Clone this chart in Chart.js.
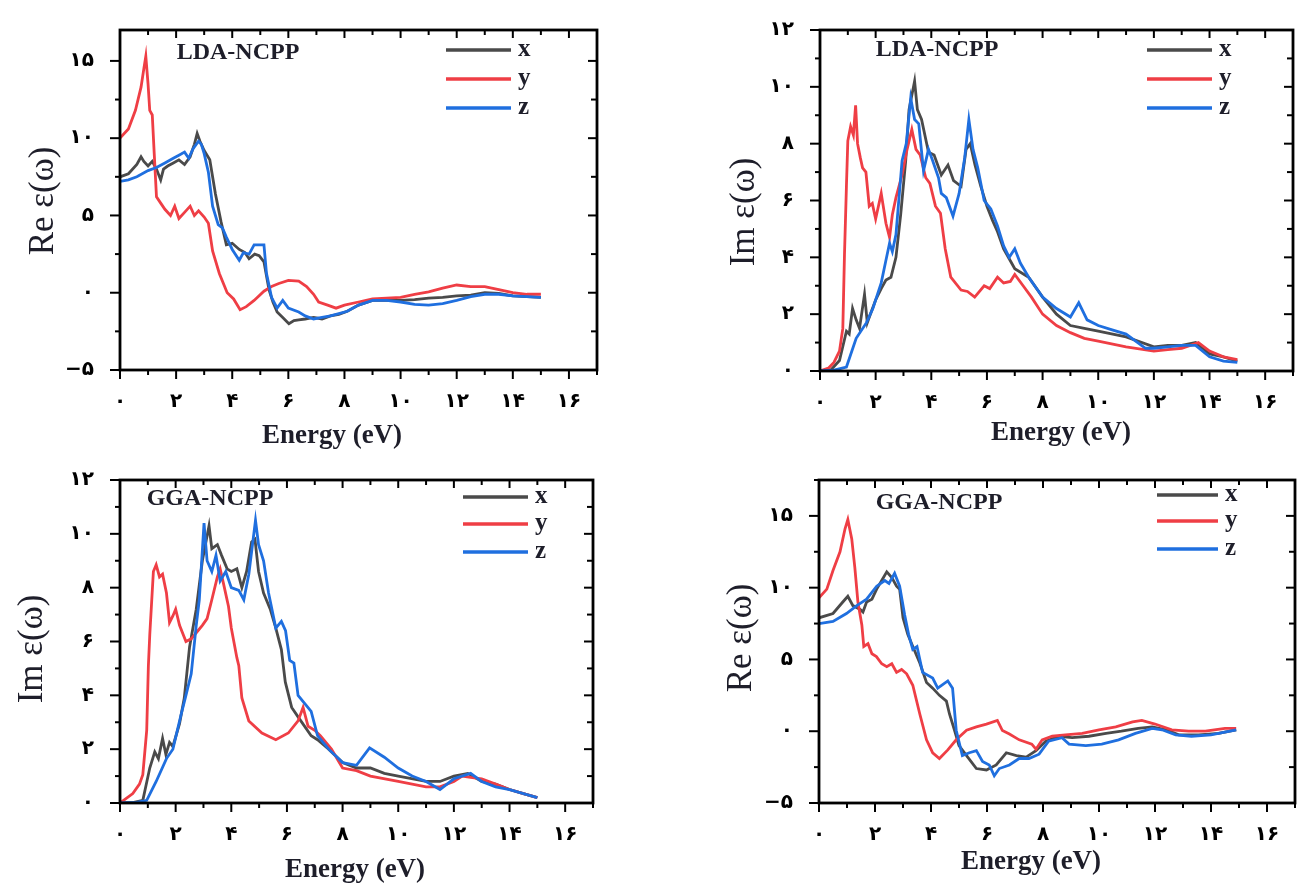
<!DOCTYPE html>
<html>
<head>
<meta charset="utf-8">
<script src="https://cdn.jsdelivr.net/npm/chart.js@4.4.1/dist/chart.umd.min.js"></script>
<style>
  html, body { margin: 0; padding: 0; background: #fff; }
  #wrap { position: relative; width: 1298px; height: 884px; overflow: hidden; }
  canvas { position: absolute; }
</style>
</head>
<body>
<div id="wrap">
  <canvas id="c1" width="620" height="450" style="left:0px;top:0px"></canvas>
  <canvas id="c2" width="598" height="450" style="left:700px;top:0px"></canvas>
  <canvas id="c3" width="620" height="434" style="left:0px;top:450px"></canvas>
  <canvas id="c4" width="598" height="434" style="left:700px;top:450px"></canvas>
</div>
<script>
/* ---- dielectric function data ---- */

const seriesNames = ['x', 'y', 'z'];
const seriesColors = ['#4a4a4a', '#ef3e45', '#1f6fdf'];
const faDigits = ['۰', '۱', '۲', '۳', '۴', '۵', '۶', '۷', '۸', '۹'];

// LDA-NCPP, Re eps
const ldaReXE = [0, 0.3, 0.6, 0.75, 0.85, 1.0, 1.15, 1.3, 1.45, 1.55, 1.7, 1.9, 2.1, 2.3, 2.5, 2.65, 2.75, 2.85, 3.0, 3.2, 3.4, 3.6, 3.79, 4.0, 4.25, 4.45, 4.6, 4.8, 4.96, 5.13, 5.31, 5.45, 5.6, 5.8, 6.02, 6.2, 6.37, 6.6, 6.9, 7.2, 7.5, 7.8, 8.1, 8.5, 9.0, 9.5, 10, 10.5, 11, 11.5, 12, 12.5, 13, 13.5, 14, 14.5, 15];
const ldaReX = [7.5, 7.7, 8.3, 8.8, 8.5, 8.2, 8.5, 8.0, 7.3, 8.0, 8.2, 8.4, 8.6, 8.3, 8.8, 9.6, 10.3, 9.8, 9.2, 8.6, 6.4, 4.6, 3.1, 3.2, 2.8, 2.6, 2.2, 2.5, 2.4, 2.0, 0.2, -0.6, -1.25, -1.6, -2.0, -1.8, -1.75, -1.7, -1.6, -1.7, -1.5, -1.4, -1.2, -0.8, -0.5, -0.5, -0.5, -0.45, -0.35, -0.3, -0.2, -0.15, 0.0, -0.05, -0.2, -0.25, -0.3];
const ldaReYE = [0, 0.3, 0.55, 0.75, 0.85, 0.92, 1.0, 1.06, 1.15, 1.22, 1.3, 1.45, 1.6, 1.8, 1.95, 2.1, 2.3, 2.5, 2.65, 2.8, 3.0, 3.15, 3.3, 3.54, 3.82, 4.05, 4.28, 4.5, 4.78, 5.13, 5.4, 5.66, 6.0, 6.37, 6.65, 6.9, 7.08, 7.4, 7.7, 8.0, 8.5, 9.0, 9.5, 10, 10.5, 11, 11.5, 12, 12.5, 13, 13.5, 14, 14.5, 15];
const ldaReY = [10, 10.6, 11.8, 13.3, 14.5, 15.3, 13.5, 11.8, 11.5, 9.0, 6.2, 5.8, 5.4, 5.0, 5.6, 4.8, 5.2, 5.6, 5.0, 5.3, 4.9, 4.5, 2.7, 1.25, 0.0, -0.4, -1.1, -0.9, -0.5, 0.1, 0.4, 0.6, 0.8, 0.75, 0.4, -0.1, -0.6, -0.8, -1.0, -0.8, -0.6, -0.4, -0.35, -0.3, -0.1, 0.05, 0.3, 0.5, 0.4, 0.4, 0.2, 0.0, -0.1, -0.1];
const ldaReZE = [0, 0.3, 0.6, 1.0, 1.3, 1.6, 1.9, 2.1, 2.3, 2.45, 2.6, 2.8, 2.9, 3.0, 3.15, 3.3, 3.5, 3.65, 3.79, 4.0, 4.25, 4.4, 4.6, 4.78, 4.96, 5.13, 5.22, 5.4, 5.6, 5.8, 6.0, 6.37, 6.6, 6.9, 7.2, 7.5, 7.8, 8.1, 8.5, 9.0, 9.5, 10, 10.5, 11, 11.5, 12, 12.5, 13, 13.5, 14, 14.5, 15];
const ldaReZ = [7.2, 7.3, 7.5, 7.9, 8.1, 8.4, 8.7, 8.9, 9.1, 8.7, 9.3, 9.8, 9.6, 9.0, 7.8, 5.6, 4.4, 4.2, 3.6, 2.8, 2.1, 2.6, 2.5, 3.1, 3.1, 3.1, 1.25, -0.3, -1.0, -0.5, -1.0, -1.25, -1.5, -1.7, -1.6, -1.5, -1.35, -1.2, -0.8, -0.5, -0.5, -0.6, -0.75, -0.8, -0.7, -0.5, -0.25, -0.1, -0.1, -0.2, -0.25, -0.3];

// LDA-NCPP, Im eps
const ldaImXE = [0, 0.4, 0.7, 0.95, 1.05, 1.17, 1.3, 1.42, 1.6, 1.7, 1.85, 2.0, 2.2, 2.37, 2.55, 2.73, 2.9, 3.08, 3.2, 3.4, 3.5, 3.65, 3.9, 4.1, 4.36, 4.6, 4.8, 5.07, 5.25, 5.4, 5.57, 5.78, 6.0, 6.2, 6.38, 6.6, 7.0, 7.5, 8.0, 8.5, 9.0, 9.5, 10, 11, 12, 12.5, 13, 13.5, 14, 14.5, 15];
const ldaImX = [0, 0.05, 0.37, 1.4, 1.3, 2.2, 1.8, 1.5, 2.7, 1.7, 2.1, 2.5, 2.9, 3.2, 3.3, 4.0, 5.5, 7.4, 9.2, 10.2, 9.2, 8.85, 7.7, 7.6, 6.9, 7.25, 6.7, 6.5, 7.8, 8.0, 7.25, 6.5, 5.8, 5.3, 4.9, 4.3, 3.6, 3.3, 2.6, 2.0, 1.6, 1.5, 1.4, 1.2, 0.85, 0.9, 0.9, 1.0, 0.6, 0.5, 0.35];
const ldaImYE = [0, 0.3, 0.5, 0.7, 0.82, 0.88, 0.95, 1.0, 1.1, 1.2, 1.28, 1.35, 1.45, 1.53, 1.65, 1.77, 1.88, 2.0, 2.2, 2.37, 2.5, 2.6, 2.73, 2.95, 3.13, 3.3, 3.45, 3.6, 3.8, 3.95, 4.15, 4.33, 4.5, 4.7, 5.07, 5.3, 5.56, 5.9, 6.1, 6.38, 6.6, 6.84, 7.0, 7.3, 7.6, 8.0, 8.5, 9.0, 9.5, 10, 11, 12, 12.5, 13, 13.6, 14, 14.5, 15];
const ldaImY = [0, 0.1, 0.3, 0.7, 1.5, 4.1, 6.5, 8.1, 8.6, 8.3, 9.35, 8.0, 7.5, 7.15, 7.0, 5.8, 5.9, 5.35, 6.25, 5.2, 4.7, 5.5, 6.1, 6.9, 7.8, 8.5, 7.8, 7.6, 6.8, 6.6, 5.8, 5.55, 4.3, 3.3, 2.85, 2.8, 2.6, 3.0, 2.9, 3.3, 3.1, 3.15, 3.4, 3.0, 2.6, 2.0, 1.6, 1.35, 1.15, 1.05, 0.85, 0.7, 0.75, 0.8, 1.0, 0.7, 0.5, 0.4];
const ldaImZE = [0, 0.5, 0.95, 1.3, 1.67, 1.9, 2.2, 2.37, 2.5, 2.6, 2.73, 2.95, 3.1, 3.26, 3.4, 3.55, 3.72, 3.9, 4.05, 4.26, 4.36, 4.54, 4.78, 5.0, 5.2, 5.35, 5.5, 5.67, 5.9, 6.14, 6.38, 6.6, 6.8, 7.0, 7.2, 7.5, 8.0, 8.5, 9.0, 9.3, 9.6, 10, 10.5, 11, 11.7, 12, 12.5, 13, 13.5, 14, 14.5, 15];
const ldaImZ = [0, 0.03, 0.14, 1.15, 1.7, 2.2, 3.1, 3.9, 4.5, 4.2, 4.8, 7.4, 8.0, 9.6, 8.85, 8.7, 7.05, 7.8, 7.4, 6.8, 6.25, 6.1, 5.45, 6.25, 7.5, 8.85, 7.8, 7.15, 6.0, 5.7, 5.1, 4.4, 4.0, 4.3, 3.8, 3.3, 2.6, 2.2, 1.9, 2.4, 1.8, 1.6, 1.45, 1.3, 0.8, 0.8, 0.85, 0.9, 0.9, 0.5, 0.35, 0.3];

// GGA-NCPP, Im eps
const ggaImXE = [0, 0.5, 0.82, 1.07, 1.25, 1.38, 1.53, 1.65, 1.78, 1.9, 2.14, 2.31, 2.5, 2.74, 2.96, 3.2, 3.3, 3.5, 3.65, 3.85, 4.0, 4.2, 4.38, 4.55, 4.73, 4.85, 4.98, 5.16, 5.4, 5.6, 5.8, 5.94, 6.17, 6.4, 6.87, 7.1, 7.5, 8.0, 8.5, 9.0, 9.5, 10, 11, 11.5, 12, 12.5, 13, 13.5, 14, 14.5, 15];
const ggaImX = [0, 0.02, 0.1, 1.3, 1.9, 1.65, 2.4, 1.8, 2.25, 2.1, 2.95, 3.9, 5.8, 7.2, 9.0, 10.3, 9.45, 9.6, 9.2, 8.7, 8.6, 8.7, 8.0, 8.6, 9.7, 9.8, 8.6, 7.8, 7.2, 6.5, 5.7, 4.5, 3.55, 3.2, 2.5, 2.35, 2.0, 1.5, 1.3, 1.3, 1.1, 1.0, 0.8, 0.8, 1.0, 1.1, 0.8, 0.7, 0.5, 0.35, 0.2];
const ggaImYE = [0, 0.46, 0.7, 0.82, 0.96, 1.02, 1.07, 1.2, 1.3, 1.42, 1.53, 1.67, 1.78, 1.9, 2.0, 2.14, 2.37, 2.56, 2.8, 2.96, 3.13, 3.3, 3.5, 3.6, 3.72, 3.9, 4.0, 4.2, 4.27, 4.38, 4.63, 5.1, 5.6, 6.05, 6.4, 6.58, 6.76, 7.0, 7.2, 7.6, 8.0, 8.5, 9.0, 10, 11, 11.5, 12, 12.3, 12.6, 13, 13.5, 14, 14.5, 15];
const ggaImY = [0, 0.35, 0.7, 1.05, 2.7, 5.1, 6.25, 8.6, 8.85, 8.4, 8.5, 7.8, 6.7, 6.95, 7.2, 6.6, 6.0, 6.1, 6.4, 6.6, 6.85, 7.55, 8.4, 8.7, 8.15, 7.3, 6.5, 5.4, 5.1, 3.9, 3.05, 2.6, 2.35, 2.6, 3.05, 3.55, 2.85, 2.7, 2.5, 2.0, 1.3, 1.2, 1.0, 0.8, 0.6, 0.6, 0.8, 1.0, 0.95, 0.9, 0.7, 0.5, 0.35, 0.2];
const ggaImZE = [0, 0.6, 0.96, 1.3, 1.67, 1.9, 2.2, 2.37, 2.56, 2.74, 2.85, 3.02, 3.13, 3.3, 3.45, 3.6, 3.8, 4.0, 4.27, 4.45, 4.63, 4.87, 4.98, 5.16, 5.34, 5.6, 5.8, 5.95, 6.1, 6.25, 6.4, 6.87, 7.1, 7.5, 8.0, 8.5, 8.97, 9.5, 10, 10.5, 11, 11.5, 12, 12.6, 13, 13.5, 14, 14.5, 15];
const ggaImZ = [0, 0.02, 0.1, 0.8, 1.65, 2.0, 3.3, 4.0, 4.8, 6.6, 7.55, 10.4, 9.0, 8.6, 9.2, 8.25, 8.6, 8.0, 7.9, 7.55, 8.5, 10.5, 9.6, 9.0, 7.8, 6.5, 6.75, 6.4, 5.3, 5.2, 4.0, 3.4, 2.5, 2.0, 1.5, 1.4, 2.05, 1.7, 1.3, 1.0, 0.8, 0.5, 0.9, 1.1, 0.8, 0.6, 0.5, 0.35, 0.2];

// GGA-NCPP, Re eps
const ggaReXE = [0, 0.5, 0.85, 1.03, 1.21, 1.46, 1.57, 1.7, 1.89, 2.06, 2.24, 2.42, 2.6, 2.77, 2.88, 3.0, 3.17, 3.35, 3.6, 3.84, 4.06, 4.3, 4.55, 4.66, 4.84, 5.0, 5.27, 5.62, 5.98, 6.33, 6.69, 7.05, 7.4, 7.75, 8.1, 8.58, 9.04, 9.64, 10.25, 10.8, 11.4, 11.9, 12.4, 12.85, 13.56, 14.27, 14.9];
const ggaReX = [7.9, 8.2, 9.0, 9.4, 8.75, 8.5, 8.3, 9.0, 9.2, 9.9, 10.5, 11.1, 10.7, 10.1, 9.9, 7.9, 6.75, 5.9, 4.75, 3.4, 3.0, 2.5, 2.1, 1.2, 0.07, -1.0, -1.7, -2.6, -2.7, -2.35, -1.5, -1.7, -1.8, -1.35, -0.7, -0.35, -0.45, -0.35, -0.15, 0.0, 0.2, 0.3, 0.1, -0.25, -0.25, -0.15, 0.1];
const ggaReYE = [0, 0.28, 0.5, 0.75, 0.93, 1.03, 1.17, 1.28, 1.39, 1.53, 1.6, 1.75, 1.89, 2.05, 2.24, 2.42, 2.6, 2.77, 2.95, 3.13, 3.35, 3.6, 3.84, 4.06, 4.3, 4.6, 4.9, 5.27, 5.62, 5.98, 6.37, 6.55, 6.8, 7.15, 7.6, 7.75, 7.97, 8.33, 8.8, 9.4, 10.0, 10.6, 11.2, 11.53, 12.0, 12.6, 13.2, 13.8, 14.5, 14.9];
const ggaReY = [9.3, 9.9, 11.2, 12.5, 14.1, 14.75, 13.4, 11.4, 9.0, 7.4, 5.9, 6.1, 5.4, 5.2, 4.7, 4.5, 4.7, 4.1, 4.3, 4.0, 3.2, 1.2, -0.6, -1.5, -1.9, -1.3, -0.6, 0.07, 0.3, 0.5, 0.75, 0.05, -0.2, -0.6, -0.9, -1.25, -0.6, -0.35, -0.25, -0.15, 0.1, 0.3, 0.65, 0.75, 0.5, 0.1, 0.0, 0.0, 0.2, 0.2];
const ggaReZE = [0, 0.5, 0.98, 1.35, 1.7, 2.06, 2.35, 2.5, 2.7, 2.88, 3.06, 3.2, 3.35, 3.5, 3.7, 4.06, 4.24, 4.6, 4.77, 4.9, 5.12, 5.37, 5.62, 5.84, 6.08, 6.26, 6.44, 6.8, 7.15, 7.5, 7.86, 8.2, 8.68, 8.93, 9.53, 10.1, 10.7, 11.3, 11.9, 12.25, 12.74, 13.3, 14.0, 14.9];
const ggaReZ = [7.5, 7.65, 8.2, 8.75, 9.2, 10.1, 10.5, 10.3, 11.0, 10.1, 8.1, 6.75, 5.7, 5.9, 4.1, 3.7, 3.0, 3.5, 3.0, 0.07, -1.7, -1.5, -1.35, -2.1, -2.35, -3.1, -2.6, -2.35, -1.9, -1.9, -1.6, -0.7, -0.45, -0.9, -1.0, -0.9, -0.6, -0.15, 0.2, 0.1, -0.25, -0.35, -0.25, 0.1];

/* ---- helpers ---- */

const pts = (es, vs) => es.map((e, i) => ({ x: e, y: vs[i] }));

function toFa(v) {
    const s = String(Math.abs(v)).replace(/\d/g, d => faDigits[+d]);
    return v < 0 ? '\u2212' + s : s;
}

function onStep(v, step) {
    const r = v / step;
    return Math.abs(r - Math.round(r)) < 1e-6;
}

function seg(ctx, x0, y0, x1, y1) {
    ctx.beginPath();
    ctx.moveTo(x0, y0);
    ctx.lineTo(x1, y1);
    ctx.stroke();
}

// frame, minor/mirrored ticks, legend and titles
const decor = {
    id: 'decor',
    afterDraw(chart, args, o) {
        const { ctx, chartArea: a } = chart;
        const xs = chart.scales.x, ys = chart.scales.y;
        ctx.save();
        ctx.strokeStyle = '#000';
        ctx.lineWidth = 2;

        for (let v = xs.min; v <= xs.max + 1e-9; v += o.xMinor) {
            const p = xs.getPixelForValue(v);
            const major = onStep(v, o.xMajor);
            seg(ctx, p, a.bottom, p, a.bottom + (major ? 9 : 5));
            seg(ctx, p, a.top, p, a.top + (major ? 8 : 5));
        }
        for (let v = ys.min; v <= ys.max + 1e-9; v += o.yMinor) {
            const p = ys.getPixelForValue(v);
            const major = onStep(v, o.yMajor);
            seg(ctx, a.left, p, a.left - (major ? 10 : 5), p);
            seg(ctx, a.right, p, a.right - (major ? 9 : 6), p);
        }
        ctx.lineWidth = 2.8;
        ctx.strokeRect(a.left, a.top, a.right - a.left, a.bottom - a.top);

        ctx.fillStyle = '#1e1e2a';
        ctx.textAlign = 'center';
        ctx.textBaseline = 'middle';
        ctx.font = 'bold 24px "Liberation Serif"';
        ctx.fillText(o.label, o.labelPos[0], o.labelPos[1]);

        // legend
        chart.data.datasets.forEach((ds, i) => {
            const y = o.legendRows[i];
            ctx.strokeStyle = ds.borderColor;
            ctx.lineWidth = 3.5;
            seg(ctx, o.legendX[0], y, o.legendX[1], y);
            ctx.textAlign = 'left';
            ctx.font = 'bold 25px "Liberation Serif"';
            ctx.fillText(ds.label, o.legendX[2], y);
        });

        ctx.textAlign = 'center';
        ctx.font = 'bold 27px "Liberation Serif"';
        ctx.fillText('Energy (eV)', o.xTitlePos[0], o.xTitlePos[1]);

        ctx.translate(o.yTitlePos[0], o.yTitlePos[1]);
        ctx.rotate(-Math.PI / 2);
        ctx.font = '35px "Liberation Serif"';
        ctx.fillText(o.yTitle, 0, 0);
        ctx.restore();
    }
};

const tickFont = { family: 'DejaVu Sans', size: 20, weight: 'bold' };

function makeChart(id, p) {
    const canvas = document.getElementById(id);
    return new Chart(canvas, {
        type: 'line',
        data: {
            datasets: p.series.map((s, i) => ({
                label: seriesNames[i],
                data: pts(s[0], s[1]),
                borderColor: seriesColors[i],
                borderWidth: 2.8,
                pointRadius: 0,
                tension: 0,
                fill: false,
                order: 3 - i,
            })),
        },
        options: {
            responsive: false,
            animation: false,
            devicePixelRatio: 1,
            layout: { padding: { left: 0, top: p.area.top, right: canvas.width - p.area.right, bottom: 0 } },
            scales: {
                x: {
                    type: 'linear',
                    min: 0,
                    max: 17,
                    ticks: {
                        stepSize: 2, includeBounds: false, autoSkip: false, maxRotation: 0,
                        callback: toFa, font: tickFont, color: '#000', padding: 12,
                    },
                    grid: { display: false },
                    border: { display: false },
                    afterFit: s => { s.height = canvas.height - p.area.bottom; },
                },
                y: {
                    type: 'linear',
                    min: p.yMin,
                    max: p.yMax,
                    ticks: {
                        stepSize: p.yMajor, includeBounds: false, autoSkip: false,
                        callback: toFa, font: tickFont, color: '#000', padding: 18,
                    },
                    grid: { display: false },
                    border: { display: false },
                    afterFit: s => { s.width = p.area.left; },
                },
            },
            plugins: {
                legend: { display: false },
                tooltip: { enabled: false },
                decor: {
                    xMajor: 2, xMinor: 1, yMajor: p.yMajor, yMinor: p.yMinor,
                    label: p.label, labelPos: p.labelPos,
                    legendX: p.legendX, legendRows: p.legendRows,
                    xTitlePos: p.xTitlePos, yTitle: p.yTitle, yTitlePos: p.yTitlePos,
                },
            },
        },
        plugins: [decor],
    });
}

makeChart('c1', {
    series: [[ldaReXE, ldaReX], [ldaReYE, ldaReY], [ldaReZE, ldaReZ]],
    area: { left: 120, top: 17, right: 597, bottom: 370 },
    yMin: -5, yMax: 17, yMajor: 5, yMinor: 2.5,
    yTitle: 'Re ε(ω)', label: 'LDA-NCPP',
    labelPos: [238, 53], legendX: [446, 511, 518], legendRows: [50, 79, 108],
    xTitlePos: [332, 436], yTitlePos: [44, 201],
});

makeChart('c2', {
    series: [[ldaImXE, ldaImX], [ldaImYE, ldaImY], [ldaImZE, ldaImZ]],
    area: { left: 120, top: 17, right: 593, bottom: 371 },
    yMin: 0, yMax: 12, yMajor: 2, yMinor: 1,
    yTitle: 'Im ε(ω)', label: 'LDA-NCPP',
    labelPos: [237, 50], legendX: [447, 512, 519], legendRows: [50, 79, 108],
    xTitlePos: [361, 433], yTitlePos: [45, 212],
});

makeChart('c3', {
    series: [[ggaImXE, ggaImX], [ggaImYE, ggaImY], [ggaImZE, ggaImZ]],
    area: { left: 120, top: 15, right: 593, bottom: 353 },
    yMin: 0, yMax: 12, yMajor: 2, yMinor: 1,
    yTitle: 'Im ε(ω)', label: 'GGA-NCPP',
    labelPos: [210, 49], legendX: [463, 528, 535], legendRows: [47, 74, 102],
    xTitlePos: [355, 420], yTitlePos: [33, 199],
});

makeChart('c4', {
    series: [[ggaReXE, ggaReX], [ggaReYE, ggaReY], [ggaReZE, ggaReZ]],
    area: { left: 119, top: 15, right: 595, bottom: 353 },
    yMin: -5, yMax: 17.5, yMajor: 5, yMinor: 2.5,
    yTitle: 'Re ε(ω)', label: 'GGA-NCPP',
    labelPos: [239, 53], legendX: [457, 518, 525], legendRows: [45, 71, 99],
    xTitlePos: [331, 412], yTitlePos: [42, 188],
});
</script>
</body>
</html>
